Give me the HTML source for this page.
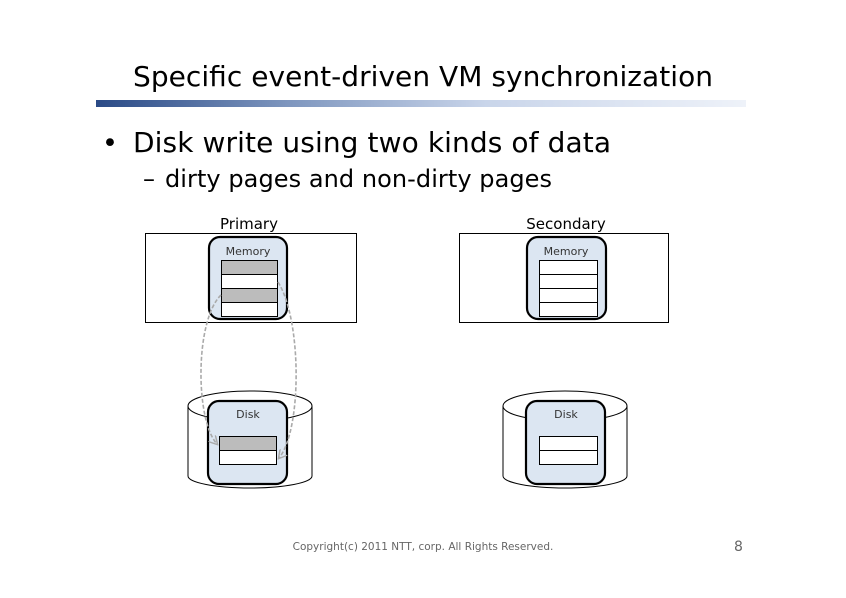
<!DOCTYPE html>
<html><head><meta charset="utf-8"><style>
body{margin:0;background:#fff;}
svg{display:block;}
</style></head><body>
<svg width="846" height="598" xmlns="http://www.w3.org/2000/svg" font-family="'DejaVu Sans', 'Liberation Sans', sans-serif">
<defs>
<linearGradient id="g" x1="0" x2="1" y1="0" y2="0">
<stop offset="0" stop-color="#2a4a86"/><stop offset="0.3" stop-color="#7f97bf"/><stop offset="0.6" stop-color="#c9d5ea"/><stop offset="1" stop-color="#eef2f9"/>
</linearGradient>
<marker id="ah" viewBox="0 0 10 10" refX="8" refY="5" markerWidth="6" markerHeight="6" orient="auto"><path d="M0,0 L9,5 L0,10" fill="none" stroke="#aaa" stroke-width="1.5"/></marker>
</defs>
<rect width="846" height="598" fill="#fff"/>
<text x="133" y="86" font-size="28" textLength="580" fill="#000">Specific event-driven VM synchronization</text>
<rect x="96" y="100" width="650" height="7" fill="url(#g)"/>
<text x="102" y="152" font-size="27">•</text>
<text x="133" y="152" font-size="28" textLength="478">Disk write using two kinds of data</text>
<text x="143" y="187" font-size="24">–</text>
<text x="165" y="187" font-size="24" textLength="387">dirty pages and non-dirty pages</text>

<g font-size="15">
<text x="249" y="229" text-anchor="middle">Primary</text>
<text x="566" y="229" text-anchor="middle">Secondary</text>
<text x="152" y="258">Guest</text>
<text x="622" y="258">Guest</text>
</g>
<rect x="145.5" y="233.5" width="211" height="89" fill="#fff" stroke="#000"/>
<rect x="459.5" y="233.5" width="209" height="89" fill="#fff" stroke="#000"/>

<rect x="209" y="237" width="78" height="82" rx="11" fill="#dce6f2" stroke="#000" stroke-width="2.2"/>
<text x="248" y="255" font-size="11" text-anchor="middle" fill="#333">Memory</text>
<g stroke="#000" stroke-width="1">
<rect x="221.5" y="260.5" width="56" height="14" fill="#bcbcbc"/>
<rect x="221.5" y="274.5" width="56" height="14" fill="#fff"/>
<rect x="221.5" y="288.5" width="56" height="14" fill="#bcbcbc"/>
<rect x="221.5" y="302.5" width="56" height="14" fill="#fff"/>
</g>
<rect x="527" y="237" width="79" height="82" rx="11" fill="#dce6f2" stroke="#000" stroke-width="2.2"/>
<text x="566" y="255" font-size="11" text-anchor="middle" fill="#333">Memory</text>
<g stroke="#000" stroke-width="1" fill="#fff">
<rect x="539.5" y="260.5" width="58" height="14"/>
<rect x="539.5" y="274.5" width="58" height="14"/>
<rect x="539.5" y="288.5" width="58" height="14"/>
<rect x="539.5" y="302.5" width="58" height="14"/>
</g>

<g stroke="#000" stroke-width="1" fill="#fff">
<path d="M188,406 L188,476 A62,12 0 0 0 312,476 L312,406"/>
<ellipse cx="250" cy="406" rx="62" ry="15"/>
<path d="M503,406 L503,476 A62,12 0 0 0 627,476 L627,406"/>
<ellipse cx="565" cy="406" rx="62" ry="15"/>
</g>
<rect x="208" y="401" width="79" height="83" rx="11" fill="#dce6f2" stroke="#000" stroke-width="2.2"/>
<text x="248" y="418" font-size="11" text-anchor="middle" fill="#333">Disk</text>
<g stroke="#000" stroke-width="1">
<rect x="219.5" y="436.5" width="57" height="14" fill="#bcbcbc"/>
<rect x="219.5" y="450.5" width="57" height="14" fill="#fff"/>
</g>
<rect x="526" y="401" width="79" height="83" rx="11" fill="#dce6f2" stroke="#000" stroke-width="2.2"/>
<text x="566" y="418" font-size="11" text-anchor="middle" fill="#333">Disk</text>
<g stroke="#000" stroke-width="1" fill="#fff">
<rect x="539.5" y="436.5" width="58" height="14"/>
<rect x="539.5" y="450.5" width="58" height="14"/>
</g>

<g fill="none" stroke="#aaa" stroke-width="1.6" stroke-dasharray="4,2">
<path d="M221,295 C195,320 195,420 217,444" marker-end="url(#ah)"/>
<path d="M278,282 C302,320 302,430 279,458" marker-end="url(#ah)"/>
</g>

<text x="423" y="550" font-size="10.5" text-anchor="middle" fill="#666">Copyright(c) 2011 NTT, corp. All Rights Reserved.</text>
<text x="734" y="551" font-size="14" fill="#666">8</text>
</svg>
</body></html>
